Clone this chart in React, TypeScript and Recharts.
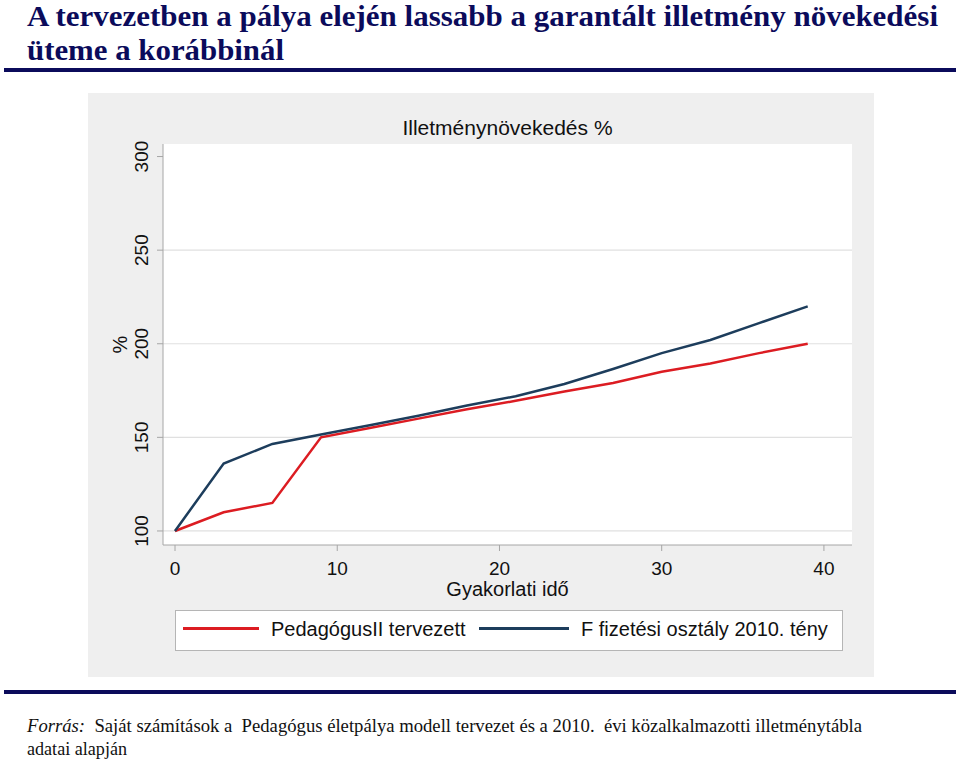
import React from "react";
import { LineChart, Line, XAxis, YAxis, CartesianGrid, Label } from "recharts";

// years of practice (every 3rd year)
const years = [0, 3, 6, 9, 12, 15, 18, 21, 24, 27, 30, 33, 36, 39];
const plannedPct = [100, 110, 115, 150, 155, 160, 165, 169.5, 174.5, 179, 185, 189.5, 195, 200];
const actualPct = [100, 136, 146.5, 151.5, 156.5, 161.5, 167, 172, 178.5, 186.5, 195, 202, 211, 220];

const seriesNames = ["PedagógusII tervezett", "F fizetési osztály 2010. tény"];
const seriesColors = ["#dc1c22", "#1d3d5c"];
const xTicks = [0, 10, 20, 30, 40];
const yTicks = [100, 150, 200, 250, 300];
const gridValues = [100, 150, 200, 250];

const navy = "#0b0b5b";
const sans = "'Liberation Sans', Arial, sans-serif";
const serif = "'Liberation Serif', 'Times New Roman', serif";

const data = years.map((year, i) => ({
  year,
  planned: plannedPct[i],
  actual: actualPct[i],
}));

const YTick = (props: any) => {
  const { x, y, payload } = props;
  return (
    <text
      x={x}
      y={y}
      transform={`rotate(-90 ${x} ${y})`}
      textAnchor="middle"
      fontSize={19}
      fontFamily={sans}
      fill="#111"
    >
      {payload.value}
    </text>
  );
};

const App = () => {
  return (
    <div style={{ position: "absolute", left: 0, top: 0, width: 960, height: 760, background: "#fff" }}>
      {/* gray graph region */}
      <div style={{ position: "absolute", left: 88, top: 93, width: 786, height: 584, background: "#efefef" }}>
        <LineChart width={786} height={584} data={data} margin={{ top: 51, right: 22, left: 0, bottom: 72 }}>
          <CartesianGrid fill="#fff" vertical={false} horizontalValues={gridValues} stroke="#e0e0e0" strokeWidth={1.2} />
          <XAxis
            dataKey="year"
            type="number"
            domain={[-0.74, 41.73]}
            ticks={xTicks}
            interval={0}
            allowDataOverflow
            height={60}
            tickSize={6}
            tickMargin={11}
            axisLine={{ stroke: "#a6a6a6" }}
            tickLine={{ stroke: "#a6a6a6" }}
            tick={{ fontSize: 19, fill: "#111", fontFamily: sans }}
          >
            <Label
              content={(p: any) => {
                const vb = p.viewBox;
                return (
                  <text x={vb.x + vb.width / 2} y={vb.y + 51} textAnchor="middle" fontSize={20} fontFamily={sans} fill="#111">
                    Gyakorlati idő
                  </text>
                );
              }}
            />
          </XAxis>
          <YAxis
            type="number"
            domain={[92.5, 306.7]}
            ticks={yTicks}
            interval={0}
            allowDataOverflow
            width={75}
            tickSize={6}
            tickMargin={9}
            axisLine={{ stroke: "#a6a6a6" }}
            tickLine={{ stroke: "#a6a6a6" }}
            tick={<YTick />}
          >
            <Label
              content={(p: any) => {
                const vb = p.viewBox;
                const lx = vb.x + 39;
                const ly = vb.y + vb.height / 2;
                return (
                  <text x={lx} y={ly} transform={`rotate(-90 ${lx} ${ly})`} textAnchor="middle" fontSize={20} fontFamily={sans} fill="#111">
                    %
                  </text>
                );
              }}
            />
          </YAxis>
          <Line type="linear" dataKey="planned" name={seriesNames[0]} stroke={seriesColors[0]} strokeWidth={2.5} dot={false} isAnimationActive={false} />
          <Line type="linear" dataKey="actual" name={seriesNames[1]} stroke={seriesColors[1]} strokeWidth={2.5} dot={false} isAnimationActive={false} />
        </LineChart>
      </div>

      {/* legend */}
      <div
        style={{
          position: "absolute",
          left: 175,
          top: 610,
          width: 666,
          height: 39,
          background: "#fff",
          border: "1px solid #b5b5b5",
          fontFamily: sans,
          fontSize: 20,
          color: "#111",
        }}
      >
        <div style={{ position: "absolute", left: 7, top: 16, width: 76, height: 2.5, background: seriesColors[0] }} />
        <div style={{ position: "absolute", left: 95, top: 6, lineHeight: "24px", whiteSpace: "nowrap" }}>{seriesNames[0]}</div>
        <div style={{ position: "absolute", left: 303, top: 16, width: 90, height: 2.5, background: seriesColors[1] }} />
        <div style={{ position: "absolute", left: 405, top: 6, lineHeight: "24px", whiteSpace: "nowrap" }}>{seriesNames[1]}</div>
      </div>

      <svg width={960} height={760} style={{ position: "absolute", left: 0, top: 0, pointerEvents: "none" }}>
        <text x={27} y={26} fontFamily={serif} fontWeight="bold" fontSize={30} fill={navy} textLength={911} lengthAdjust="spacingAndGlyphs">
          A tervezetben a pálya elején lassabb a garantált illetmény növekedési
        </text>
        <text x={27} y={60} fontFamily={serif} fontWeight="bold" fontSize={30} fill={navy} textLength={257} lengthAdjust="spacingAndGlyphs">
          üteme a korábbinál
        </text>
        <rect x={4} y={68} width={952} height={4} fill={navy} />

        <text x={507.5} y={135} textAnchor="middle" fontFamily={sans} fontSize={21} fill="#111">
          Illetménynövekedés %
        </text>

        <rect x={4} y={690} width={952} height={4} fill={navy} />
        <text x={27} y={732} fontFamily={serif} fontSize={18} fill="#111" textLength={835} lengthAdjust="spacingAndGlyphs" style={{ whiteSpace: "pre" }}>
          <tspan fontStyle="italic">Forrás:</tspan>{"  Saját számítások a  Pedagógus életpálya modell tervezet és a 2010.  évi közalkalmazotti illetménytábla"}
        </text>
        <text x={27} y={755} fontFamily={serif} fontSize={18} fill="#111" textLength={100} lengthAdjust="spacingAndGlyphs">
          adatai alapján
        </text>
      </svg>
    </div>
  );
};

export default App;
